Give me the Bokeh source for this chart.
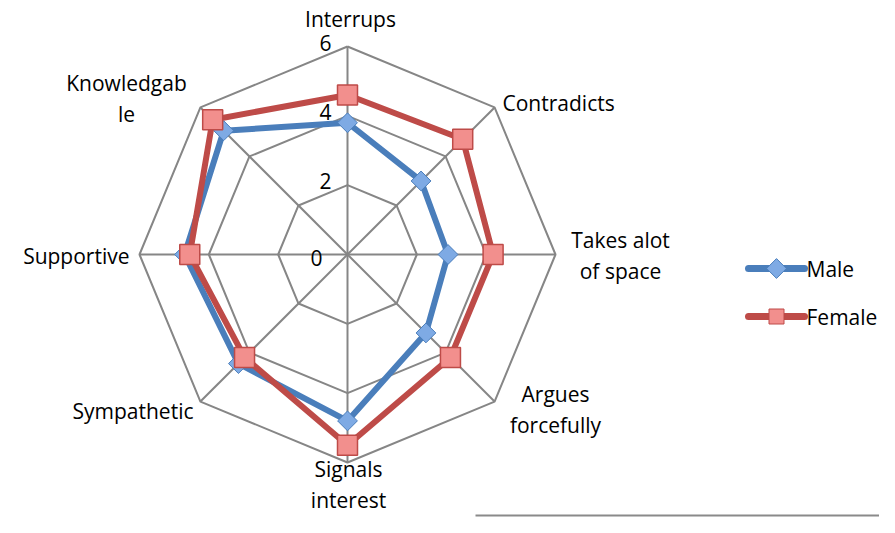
import numpy as np
from bokeh.plotting import figure
from bokeh.models import Range1d
from bokeh.core.properties import value
from bokeh.embed import file_html
from bokeh.resources import INLINE

categories = ["Interrups", "Contradicts", "Takes alot\nof space", "Argues\nforcefully",
              "Signals\ninterest", "Sympathetic", "Supportive", "Knowledgab\nle"]
male = [3.8, 3.0, 2.9, 3.2, 4.8, 4.45, 4.7, 5.05]
female = [4.6, 4.7, 4.2, 4.2, 5.5, 4.2, 4.55, 5.5]
ring_values = [2, 4, 6]
tick_labels = ["0", "2", "4", "6"]
series_names = ["Male", "Female"]

S = 208 / 6.0  # px per unit
CX, CY = 347, 254  # chart center in picture pixels

W, H = 879, 517
p = figure(width=W, height=H, output_backend="svg", toolbar_location=None,
           x_range=Range1d(-CX / S, (W - CX) / S),
           y_range=Range1d((CY - H) / S, CY / S),
           min_border=0)
p.axis.visible = False
p.grid.visible = False
p.outline_line_color = None
p.background_fill_color = "white"
p.border_fill_color = "white"

n = len(categories)
ang = np.pi / 2 - np.arange(n) * 2 * np.pi / n

def px(xr, yr):
    return ((xr - CX) / S, (CY - yr) / S)

GRID = "#868686"
for a in ang:
    p.line([0, 6 * np.cos(a)], [0, 6 * np.sin(a)], line_color=GRID, line_width=2)
for r in ring_values:
    xs = list(r * np.cos(ang)) + [r * np.cos(ang[0])]
    ys = list(r * np.sin(ang)) + [r * np.sin(ang[0])]
    p.line(xs, ys, line_color=GRID, line_width=2)

def closed(vals):
    v = np.array(vals + vals[:1], dtype=float)
    a = np.concatenate([ang, ang[:1]])
    return v * np.cos(a), v * np.sin(a)

mx, my = closed(male)
fx, fy = closed(female)
MALE_C = "#4a7ebb"
FEM_C = "#be4b48"
MALE_F = "#7eaae4"
FEM_F = "#f28f8d"
p.line(mx, my, line_color=MALE_C, line_width=6, line_join="round")
p.line(fx, fy, line_color=FEM_C, line_width=6, line_join="round")
p.scatter(mx[:-1], my[:-1], marker="square", size=14, angle=np.pi / 4,
          fill_color=MALE_F, line_color=MALE_C, line_width=1)
p.scatter(fx[:-1], fy[:-1], marker="square", size=20, fill_color=FEM_F,
          line_color=FEM_C, line_width=1.5)

FONT = value("Open Sans")
FS = "21px"
label_pos = [(350, 18, "center"), (502, 102, "left"), (620, 255, "center"),
             (555, 409, "center"), (348, 484, "center"), (193, 410, "right"),
             (129, 255, "right"), (126, 98, "center")]
for lab, (xr, yr, al) in zip(categories, label_pos):
    x, y = px(xr, yr)
    p.text([x], [y], text=[lab], text_font=FONT, text_font_size=FS,
           text_align=al, text_baseline="middle", text_color="black",
           text_line_height=1.1)

for t in tick_labels:
    r = int(t)
    if r > 0:
        x, y = px(331, CY - r * S - 4)
    else:
        x, y = px(322, CY + 3)
    p.text([x], [y], text=[t], text_font=FONT, text_font_size=FS,
           text_align="right", text_baseline="middle", text_color="black")

legend_rows = [(series_names[0], MALE_C, MALE_F, 14, np.pi / 4, 268),
               (series_names[1], FEM_C, FEM_F, 15, 0.0, 316)]
for name, col, fc, sz, an, yr in legend_rows:
    x0, y0 = px(748, yr)
    x1, _ = px(804, yr)
    p.line([x0, x1], [y0, y0], line_color=col, line_width=7, line_cap="round")
    xm, _ = px(776, yr)
    p.scatter([xm], [y0], marker="square", size=sz, angle=an, fill_color=fc,
              line_color=col, line_width=1)
    xt, _ = px(806, yr)
    p.text([xt], [y0], text=[name], text_font=FONT, text_font_size=FS,
           text_align="left", text_baseline="middle", text_color="black")

bx0, by = px(475, 515)
bx1, _ = px(879, 515)
p.line([bx0, bx1], [by, by], line_color="#8a8a8a", line_width=2)

open("out.html", "w").write(file_html(p, INLINE))
